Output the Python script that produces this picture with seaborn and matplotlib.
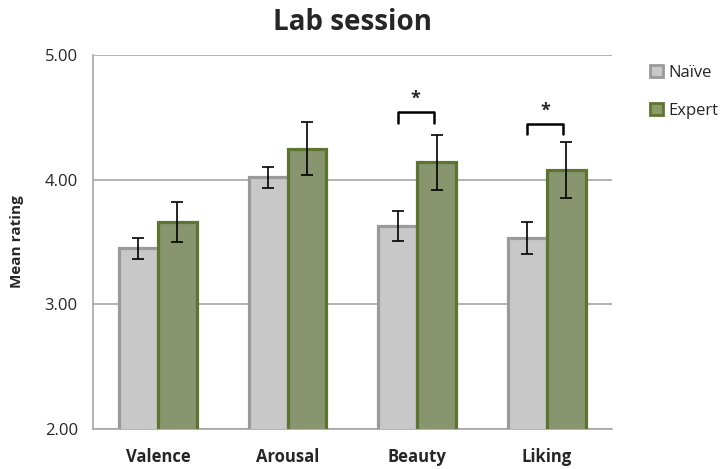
import pandas as pd
import seaborn as sns
from matplotlib import pyplot as plt

categories = ["Valence", "Arousal", "Beauty", "Liking"]
groups = ["Naïve", "Expert"]
naive_means = [3.45, 4.02, 3.63, 3.53]
naive_err = [0.085, 0.085, 0.12, 0.13]
expert_means = [3.66, 4.25, 4.14, 4.08]
expert_err = [0.16, 0.21, 0.22, 0.225]
y_ticks = [2.0, 3.0, 4.0, 5.0]
# significance brackets: (category index, top, leg bottom)
brackets = [(2, 4.545, 4.455), (3, 4.45, 4.365)]

fill_colors = {"Naïve": "#c8c8c8", "Expert": "#8a9b68"}
edge_colors = {"Naïve": "#9a9a9a", "Expert": "#5e7431"}

df = pd.DataFrame({
    "category": categories * 2,
    "group": [groups[0]] * 4 + [groups[1]] * 4,
    "mean": naive_means + expert_means,
    "err": naive_err + expert_err,
})

sns.set_style("white")
plt.rcParams["font.family"] = ["Open Sans", "DejaVu Sans"]

fig = plt.figure(figsize=(7.24, 4.69), dpi=100)
ax = fig.add_axes([0.1285, 0.0853, 0.7165, 0.7974])

sns.barplot(data=df, x="category", y="mean", hue="group", order=categories,
            hue_order=groups, palette=fill_colors, width=0.6, errorbar=None,
            ax=ax, legend=False)

# edge colours, error bars
for i, g in enumerate(groups):
    cont = ax.containers[i]
    sub = df[df["group"] == g].set_index("category").loc[categories]
    xs = []
    for bar in cont:
        bar.set_edgecolor(edge_colors[g])
        bar.set_linewidth(2.3)
        bar.set_zorder(3)
        xs.append(bar.get_x() + bar.get_width() / 2)
    ax.errorbar(xs, sub["mean"], yerr=sub["err"], fmt="none", ecolor="black",
                elinewidth=1.2, capsize=4, capthick=1.2, zorder=4)

# brackets with stars
for idx, top, bottom in brackets:
    b0, b1 = ax.containers[0][idx], ax.containers[1][idx]
    x0 = b0.get_x() + b0.get_width() / 2
    x1 = b1.get_x() + b1.get_width() * 0.42
    ax.plot([x0, x0, x1, x1], [bottom, top, top, bottom], color="black", lw=1.8,
            solid_joinstyle="round", zorder=5)
    ax.text((x0 + x1) / 2, top + 0.03, "*", ha="center", va="bottom",
            fontsize=13, fontweight="bold")

ax.set_ylim(2.0, 5.0)
ax.set_xlim(-0.5, 3.5)
ax.set_yticks(y_ticks)
ax.set_yticklabels([f"{t:.2f}" for t in y_ticks], fontsize=12)
ax.yaxis.grid(True, color="#a6a6a6", lw=1.2)
ax.set_axisbelow(True)
ax.tick_params(axis="y", length=0, pad=11)
ax.tick_params(axis="x", length=0, pad=14)
for lbl in ax.get_xticklabels():
    lbl.set_fontweight("bold")
    lbl.set_fontsize(12)
ax.set_xlabel("")
ax.set_ylabel("Mean rating", fontsize=11, fontweight="bold", labelpad=15)
for side in ["top", "right"]:
    ax.spines[side].set_visible(False)
for side in ["left", "bottom"]:
    ax.spines[side].set_color("#a6a6a6")
    ax.spines[side].set_linewidth(1.2)

ax.set_title("Lab session", fontsize=20, fontweight="bold", pad=18)

handles = [plt.Rectangle((0, 0), 1, 1, facecolor=fill_colors[g],
                         edgecolor=edge_colors[g], linewidth=2) for g in groups]
fig.legend(handles, groups, loc="upper left", bbox_to_anchor=(0.898, 0.861),
           frameon=False, fontsize=12, handlelength=0.75, handleheight=0.75,
           handletextpad=0.35, labelspacing=1.3, borderpad=0, borderaxespad=0)

fig.savefig("out.png", dpi=100)
